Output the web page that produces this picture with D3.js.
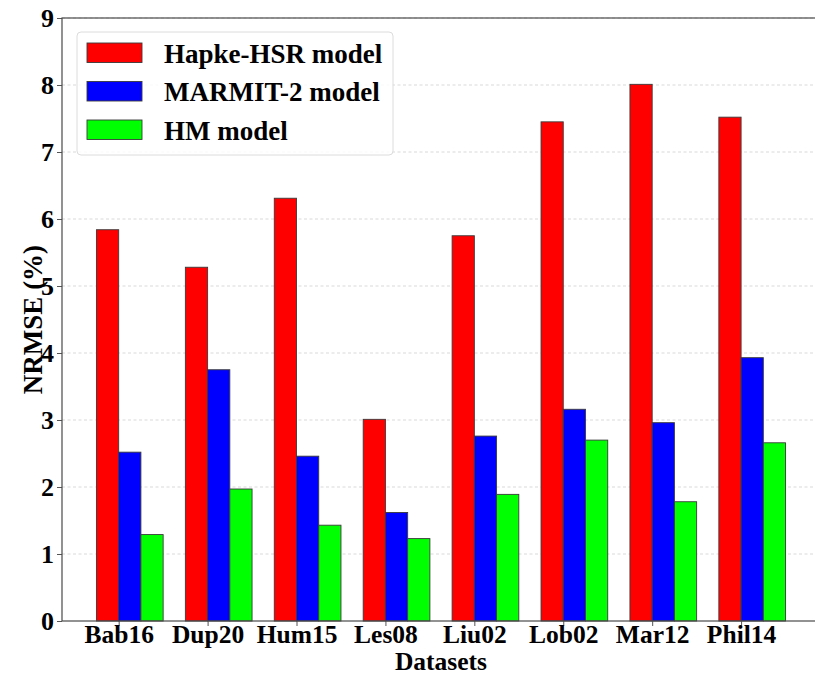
<!DOCTYPE html>
<html>
<head>
<meta charset="utf-8">
<script src="https://cdn.jsdelivr.net/npm/d3@7"></script>
<style>
  html, body { margin: 0; padding: 0; background: #fff; }
  svg { display: block; }
  text { font-family: "Liberation Serif", "Times New Roman", serif; font-weight: bold; fill: #000; }
</style>
</head>
<body>
<svg id="chart" width="815" height="676"></svg>
<script>
const categories = ["Bab16", "Dup20", "Hum15", "Les08", "Liu02", "Lob02", "Mar12", "Phil14"];
const seriesNames = ["Hapke-HSR model", "MARMIT-2 model", "HM model"];
const hapkeValues = [5.84, 5.28, 6.31, 3.01, 5.75, 7.45, 8.01, 7.52];
const marmitValues = [2.52, 3.75, 2.46, 1.62, 2.76, 3.16, 2.96, 3.93];
const hmValues = [1.29, 1.97, 1.43, 1.23, 1.89, 2.70, 1.78, 2.66];
const yTicks = [0, 1, 2, 3, 4, 5, 6, 7, 8, 9];
const colors = ["#ff0000", "#0000ff", "#00ff00"];

const series = [hapkeValues, marmitValues, hmValues];
const barW = 0.25;
const offsets = [-barW / 2, barW / 2, 3 * barW / 2];

const svg = d3.select("#chart");
const L = 62, R = 820, T = 18, B = 621;

const x = d3.scaleLinear().domain([-0.6375, 7.8875]).range([L, R]);
const y = d3.scaleLinear().domain([0, 9]).range([B, T]);

// grid
svg.append("g").selectAll("line").data(yTicks.filter(d => d > 0)).join("line")
  .attr("x1", L).attr("x2", R)
  .attr("y1", d => y(d)).attr("y2", d => y(d))
  .attr("stroke", "#cfcfcf").attr("stroke-width", 0.8).attr("stroke-dasharray", "3,2.5");

// bars
const gBars = svg.append("g");
series.forEach((vals, si) => {
  gBars.append("g").selectAll("rect").data(vals).join("rect")
    .attr("x", (d, i) => x(i + offsets[si] - barW / 2))
    .attr("width", x(barW) - x(0))
    .attr("y", d => y(d))
    .attr("height", d => y(0) - y(d))
    .attr("fill", colors[si])
    .attr("stroke", "#3a3a3a").attr("stroke-width", 0.9);
});

// axes
const xAxis = d3.axisBottom(x).tickValues(d3.range(categories.length))
  .tickFormat(i => categories[i]).tickSize(5).tickPadding(3);
const gx = svg.append("g").attr("transform", `translate(0,${B})`).call(xAxis);
gx.select(".domain").remove();
gx.selectAll(".tick line").attr("stroke", "#555");
gx.selectAll(".tick text").style("font-size", "25.5px").attr("y", 21.5).attr("dy", null);

const yAxis = d3.axisLeft(y).tickValues(yTicks).tickFormat(d3.format("d")).tickSize(5).tickPadding(3);
const gy = svg.append("g").attr("transform", `translate(${L},0)`).call(yAxis);
gy.select(".domain").remove();
gy.selectAll(".tick line").attr("stroke", "#555");
gy.selectAll(".tick text").style("font-size", "26px");

// spines
svg.append("rect").attr("x", L).attr("y", T).attr("width", R - L).attr("height", B - T)
  .attr("fill", "none").attr("stroke", "#4a4a4a").attr("stroke-width", 1.2);

// axis labels
svg.append("text").attr("x", (L + R) / 2).attr("y", 670)
  .attr("text-anchor", "middle").style("font-size", "25.5px").text("Datasets");
svg.append("text").attr("transform", `translate(42,${(T + B) / 2}) rotate(-90)`)
  .attr("text-anchor", "middle").style("font-size", "27px").text("NRMSE (%)");

// legend
const lg = svg.append("g");
lg.append("rect").attr("x", 77).attr("y", 32).attr("width", 316).attr("height", 123)
  .attr("rx", 4).attr("fill", "#fff").attr("fill-opacity", 0.85)
  .attr("stroke", "#dcdcdc").attr("stroke-width", 1);
seriesNames.forEach((name, i) => {
  const yy = 43 + i * 38.5;
  lg.append("rect").attr("x", 87).attr("y", yy).attr("width", 55).attr("height", 19.5)
    .attr("fill", colors[i]).attr("stroke", "#3a3a3a").attr("stroke-width", 0.9);
  lg.append("text").attr("x", 164).attr("y", yy + 19.5).style("font-size", "27px").text(name);
});
</script>
</body>
</html>
